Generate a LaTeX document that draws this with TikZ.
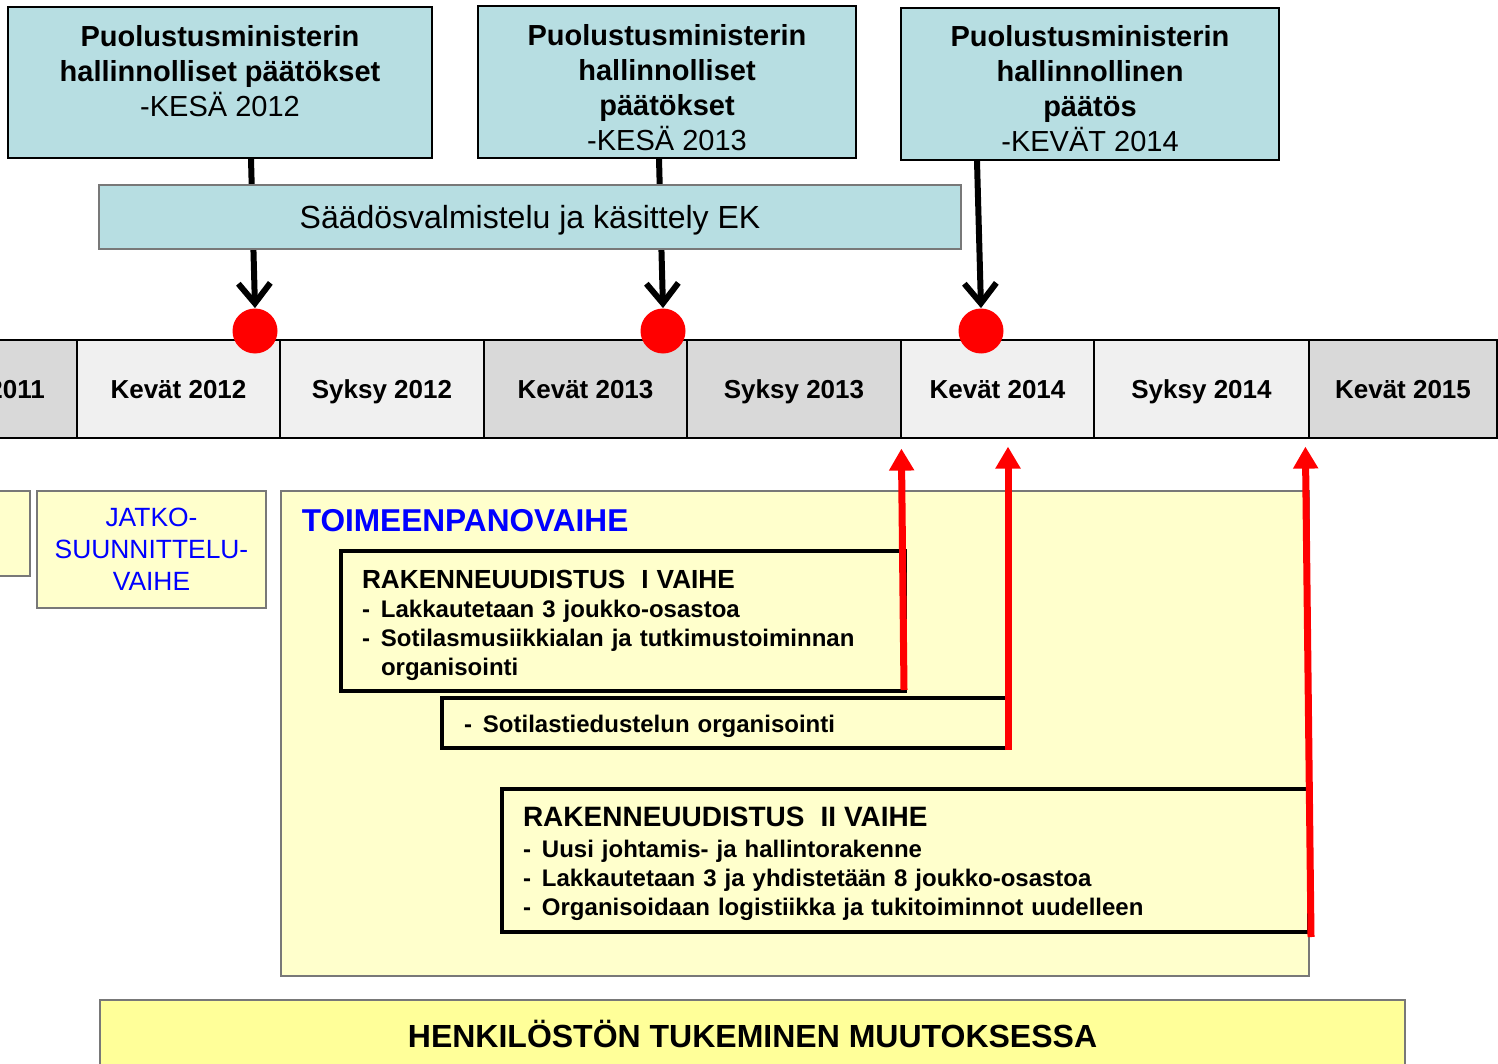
\documentclass[tikz,border=0pt]{standalone}
\usepackage{fontspec}
\setmainfont{Liberation Sans}
\usetikzlibrary{arrows.meta, calc, positioning}
\definecolor{pmteal}{RGB}{183,222,226}
\definecolor{vaalea}{RGB}{240,240,240}
\definecolor{tumma}{RGB}{217,217,217}
\definecolor{keltainen}{RGB}{255,255,204}
\definecolor{kirkas}{RGB}{255,255,153}
\definecolor{reunus}{RGB}{120,120,120}

\tikzset{
    pmbox/.style={draw, line width=1pt, fill=pmteal, align=center, inner sep=0pt,
        font=\fontsize{14.5}{17.5}\selectfont\bfseries},
    cell/.style={draw, line width=0.6pt, minimum height=49pt, inner sep=0pt, text height=9.5pt, text depth=0pt,
        font=\fontsize{13}{15}\selectfont\bfseries},
    piste/.style={circle, fill=red, minimum size=22.5pt, inner sep=0pt},
    musta/.style={line width=3pt, -{Straight Barb[length=10pt, width=16pt]}},
    punainen/.style={red, line width=3.5pt, -{Triangle[length=11pt, width=12pt]}},
    vaihe/.style={draw=reunus, line width=0.6pt, fill=keltainen, inner sep=0pt},
    tehtava/.style={draw, line width=2pt, fill=keltainen, align=left, inner ysep=0pt,
        font=\fontsize{12}{14.5}\selectfont\bfseries}
}
\newcommand{\viiva}{\makebox[9.5pt][l]{-}}

\begin{document}
\begin{tikzpicture}[x=0.5pt, y=-0.5pt]
                    \useasboundingbox (0,0) rectangle (1498,1064);
                    \clip (0,0) rectangle (1498,1064);

                    % paatokset
                    \node[pmbox, minimum width=212pt, minimum height=75.5pt, text depth=11.5pt] (pm12) at (220,82.5) {Puolustusministerin\\hallinnolliset päätökset\\{\mdseries -KESÄ 2012}};
                    \node[pmbox, minimum width=189pt, minimum height=76pt, text height=68.2pt] (pm13) at (667,82) {Puolustusministerin\\hallinnolliset\\päätökset\\{\mdseries -KESÄ 2013}};
                    \node[pmbox, minimum width=189pt, minimum height=76pt, text height=67.7pt] (pm14) at (1090,84) {Puolustusministerin\\hallinnollinen\\päätös\\{\mdseries -KEVÄT 2014}};

                    % aikajana
                    \node[cell, fill=tumma, minimum width=101.5pt] (s11) at (-24.5,389) {Syksy 2011};
                    \node[cell, fill=vaalea, minimum width=101.5pt] (k12) at (178.5,389) {Kevät 2012};
                    \node[cell, fill=vaalea, minimum width=102pt] (s12) at (382,389) {Syksy 2012};
                    \node[cell, fill=tumma, minimum width=101.5pt] (k13) at (585.5,389) {Kevät 2013};
                    \node[cell, fill=tumma, minimum width=107pt] (s13) at (794,389) {Syksy 2013};
                    \node[cell, fill=vaalea, minimum width=96.5pt] (k14) at (997.5,389) {Kevät 2014};
                    \node[cell, fill=vaalea, minimum width=107.5pt] (s14) at (1201.5,389) {Syksy 2014};
                    \node[cell, fill=tumma, minimum width=94pt] (k15) at (1403,389) {Kevät 2015};

                    \node[piste] (d12) at (255,331) {};
                    \node[piste] (d13) at (663,331) {};
                    \node[piste] (d14) at (981,331) {};

                    \draw[musta] ([xshift=15.5pt]pm12.south) -- (d12.north);
                    \draw[musta] ([xshift=-4pt]pm13.south) -- (d13.north);
                    \draw[musta] ([xshift=-56.5pt]pm14.south) -- (d14.north);

                    \node[draw=reunus, line width=0.6pt, fill=pmteal, minimum width=431pt, minimum height=32pt, text height=11.5pt, text depth=0pt, font=\fontsize{16}{19}\selectfont] (ek) at (530,217) {Säädösvalmistelu ja käsittely EK};

                    % vaiheet
                    \node[vaihe, minimum width=115pt, minimum height=42.5pt] (esi) at (-85,533.5) {};
                    \node[vaihe, minimum width=114.5pt, minimum height=58.5pt, align=center, text=blue, font=\fontsize{13.2}{16}\selectfont] (jatko) at (151.5,549.5) {JATKO-\\SUUNNITTELU-\\VAIHE};
                    \node[vaihe, minimum width=514pt, minimum height=242.5pt] (toim) at (795,733.5) {};
                    \node[below right=9.5pt and 10.5pt of toim.north west, inner sep=0pt, text=blue, font=\fontsize{15.8}{18}\selectfont\bfseries] (toimotsikko) {TOIMEENPANOVAIHE};

                    \node[tehtava, text width=261pt, inner xsep=10.5pt, minimum height=70pt, text height=13.4pt] (rk1) at (623,621) {{\fontsize{13.1}{16}\selectfont RAKENNEUUDISTUS\ \ I VAIHE}\\\viiva Lakkautetaan 3 joukko-osastoa\\\viiva Sotilasmusiikkialan ja tutkimustoiminnan\\\hphantom{\viiva}organisointi};
                    \node[tehtava, text width=260.5pt, inner xsep=11pt, minimum height=25pt, text height=11.8pt] (sot) at (724.5,723) {\viiva Sotilastiedustelun organisointi};
                    \node[tehtava, text width=382.5pt, inner xsep=10.5pt, minimum height=71.5pt, text height=13.5pt] (rk2) at (905.5,860.5) {{\fontsize{14}{17}\selectfont RAKENNEUUDISTUS\ \ II VAIHE}\\[1pt]\viiva Uusi johtamis- ja hallintorakenne\\\viiva Lakkautetaan 3 ja yhdistetään 8 joukko-osastoa\\\viiva Organisoidaan logistiikka ja tukitoiminnot uudelleen};

                    \draw[punainen] ([xshift=-1.5pt, yshift=1.5pt]rk1.south east) -- ($(k14.south west)+(1,10)$);
                    \draw[punainen] ([xshift=-0.5pt]sot.south east) -- ($(sot.east |- k14.south)+(-1,8)$);
                    \draw[punainen] ([yshift=-1.5pt]rk2.south east) -- ($(k15.south west)+(-3,8)$);

                    \node[draw=reunus, line width=1pt, fill=kirkas, minimum width=652.5pt, minimum height=34pt, font=\fontsize{16}{19}\selectfont\bfseries] (henk) at (752.5,1034) {HENKILÖSTÖN TUKEMINEN MUUTOKSESSA};
            \end{tikzpicture}
\end{document}
